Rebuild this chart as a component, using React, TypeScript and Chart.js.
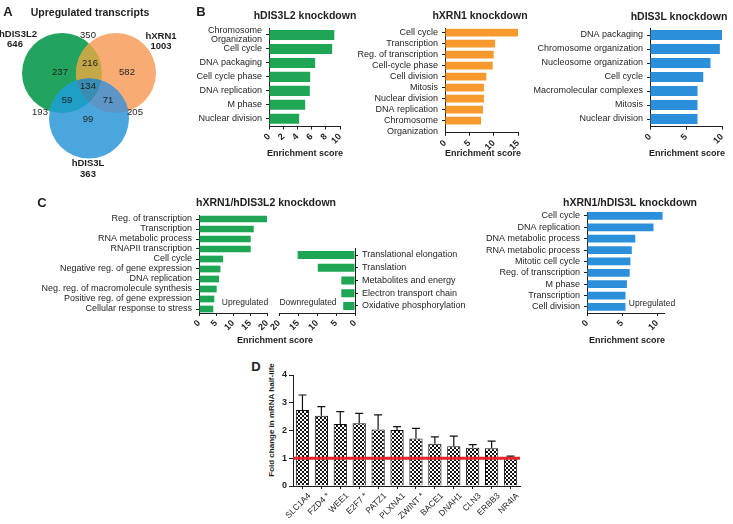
import React, { useEffect, useRef } from 'react';
import { Chart, registerables } from 'chart.js';

Chart.register(...registerables);

const FONT = '"Liberation Sans", Arial, Helvetica, sans-serif';
const INK = '#1e1e1e';

// ---------------- data ----------------
// Panel A – Venn
const vennSetNames = ['hDIS3L2', 'hXRN1', 'hDIS3L'];
const vennSetTotals = [646, 1003, 363];
// only-hDIS3L2, hDIS3L2∩hXRN1, only-hXRN1, all three, hDIS3L2∩hDIS3L, hXRN1∩hDIS3L, only-hDIS3L, outer labels
const vennRegionCounts = [237, 216, 582, 134, 59, 71, 99, 350, 193, 205];

// Panel B
const b1Cats = [['Chromosome', 'Organization'], 'Cell cycle', 'DNA packaging', 'Cell cycle phase', 'DNA replication', 'M phase', 'Nuclear division'];
const b1Vals = [9.2, 8.9, 6.5, 5.8, 5.75, 5.1, 4.25];
const b1Ticks = [0, 10, 2];

const b2Cats = ['Cell cycle', 'Transcription', 'Reg. of transcription', 'Cell-cycle phase', 'Cell division', 'Mitosis', 'Nuclear division', 'DNA replication', ['', 'Chromosome', 'Organization']];
const b2Vals = [15.0, 10.3, 10.0, 9.8, 8.5, 8.0, 8.0, 7.8, 7.4];
const b2Ticks = [0, 15, 5];

const b3Cats = ['DNA packaging', 'Chromosome organization', 'Nucleosome organization', 'Cell cycle', 'Macromolecular complexes', 'Mitosis', 'Nuclear division'];
const b3Vals = [10.1, 9.7, 8.4, 7.4, 6.6, 6.6, 6.6];
const b3Ticks = [0, 10, 5];

// Panel C
const c1UpCats = ['Reg. of transcription', 'Transcription', 'RNA metabolic process', 'RNAPII transcription', 'Cell cycle', 'Negative reg. of gene expression', 'DNA replication', 'Neg. reg. of macromolecule synthesis', 'Positive reg. of gene expression', 'Cellular response to stress'];
const c1UpVals = [20.0, 16.1, 15.2, 15.2, 7.1, 6.3, 5.9, 5.2, 4.5, 4.2];
const c1DownCats = ['Translational elongation', 'Translation', 'Metabolites and energy', 'Electron transport chain', 'Oxidative phosphorylation'];
const c1DownVals = [15.1, 9.8, 3.6, 3.6, 3.1];
const c1Ticks = [0, 20, 5];

const c2Cats = ['Cell cycle', 'DNA replication', 'DNA metabolic process', 'RNA metabolic process', 'Mitotic cell cycle', 'Reg. of transcription', 'M phase', 'Transcription', 'Cell division'];
const c2Vals = [10.8, 9.5, 6.9, 6.4, 6.2, 6.1, 5.7, 5.5, 5.5];
const c2Ticks = [0, 11, 5];

// Panel D
const dGenes = ['SLC1A4', 'FZD4 *', 'WEE1', 'E2F7 *', 'PATZ1', 'PLXNA1', 'ZWINT *', 'BACE1', 'DNAH1', 'CLN3', 'ERBB3', 'NR4IA'];
const dMeans = [2.74, 2.53, 2.23, 2.26, 2.04, 2.02, 1.71, 1.52, 1.43, 1.38, 1.36, 1.0];
const dErrTop = [3.28, 2.86, 2.68, 2.62, 2.56, 2.14, 2.08, 1.77, 1.8, 1.49, 1.62, 1.08];
const dBaseline = 1;
const dTicks = [0, 4, 1];

// ---------------- layout / style ----------------
const GREEN = '#1fa655';
const ORANGE = '#f7992c';
const BLUE = '#2b90d9';

const VENN_BOX = [0, 0, 185, 185];
const VENN_CIRCLES = [
  { cx: 62, cy: 73, r: 40, color: '#22a35e' },
  { cx: 116, cy: 73, r: 40, color: '#f8ab72' },
  { cx: 89, cy: 118.5, r: 40, color: '#4ca6de' },
];
const VENN_OVERLAP = { ab: '#c4a847', ac: '#1d9fc6', bc: '#5d96c6', abc: '#3a8db2' };
const VENN_REGION_POS = [[60, 72], [90, 63], [127, 72], [88, 86], [67, 100], [108, 100], [88, 119], [88, 35], [40, 112], [135, 112]];
const VENN_SET_POS = [[18, 34, 15, 44], [161, 36, 161, 46], [88, 163, 88, 174]];

type Box = [number, number, number, number];

const TEXTS: { s: string; x: number; y: number; size: number; bold?: boolean; rot?: number }[] = [
  { s: 'A', x: 8, y: 11, size: 13, bold: true },
  { s: 'Upregulated transcripts', x: 90, y: 12, size: 10.5, bold: true },
  { s: 'B', x: 201, y: 11, size: 13, bold: true },
  { s: 'hDIS3L2 knockdown', x: 305, y: 15, size: 10.5, bold: true },
  { s: 'hXRN1 knockdown', x: 480, y: 15, size: 10.5, bold: true },
  { s: 'hDIS3L knockdown', x: 679, y: 16, size: 10.5, bold: true },
  { s: 'Enrichment score', x: 305, y: 153, size: 9, bold: true },
  { s: 'Enrichment score', x: 483, y: 153, size: 9, bold: true },
  { s: 'Enrichment score', x: 687, y: 153, size: 9, bold: true },
  { s: 'C', x: 42, y: 202, size: 13, bold: true },
  { s: 'hXRN1/hDIS3L2 knockdown', x: 266, y: 202, size: 10.5, bold: true },
  { s: 'hXRN1/hDIS3L knockdown', x: 630, y: 202, size: 10.5, bold: true },
  { s: 'Upregulated', x: 245, y: 302, size: 8.5 },
  { s: 'Downregulated', x: 308, y: 302, size: 8.5 },
  { s: 'Upregulated', x: 652, y: 303, size: 8.5 },
  { s: 'Enrichment score', x: 275, y: 340, size: 9, bold: true },
  { s: 'Enrichment score', x: 627, y: 340, size: 9, bold: true },
  { s: 'D', x: 256, y: 366, size: 13, bold: true },
  { s: 'Fold change in mRNA half-life', x: 272, y: 420, size: 8, bold: true, rot: -90 },
];

type HBarCfg = {
  canvas: Box;
  area: Box;
  cats: (string | string[])[];
  vals: number[];
  ticks: number[];
  color: string;
  idxMin: number;
  idxMax: number;
  barPct: number;
  side: 'left' | 'right';
  reverseX?: boolean;
  lineHeight?: number;
};

const HBARS: HBarCfg[] = [
  { canvas: [190, 20, 350, 150], area: [269, 28, 340, 126.5], cats: b1Cats, vals: b1Vals, ticks: b1Ticks, color: GREEN, idxMin: -0.5, idxMax: 6.55, barPct: 0.72, side: 'left', lineHeight: 0.95 },
  { canvas: [350, 20, 530, 156], area: [445, 28.3, 518, 132.8], cats: b2Cats, vals: b2Vals, ticks: b2Ticks, color: ORANGE, idxMin: -0.4, idxMax: 9.1, barPct: 0.7, side: 'left' },
  { canvas: [525, 20, 733, 150], area: [650, 28, 722, 126.7], cats: b3Cats, vals: b3Vals, ticks: b3Ticks, color: BLUE, idxMin: -0.5, idxMax: 6.55, barPct: 0.72, side: 'left' },
  { canvas: [0, 205, 275, 336], area: [199, 215, 267, 313], cats: c1UpCats, vals: c1UpVals, ticks: c1Ticks, color: GREEN, idxMin: -0.4, idxMax: 9.4, barPct: 0.67, side: 'left' },
  { canvas: [262, 240, 480, 336], area: [279, 248, 355, 313], cats: c1DownCats, vals: c1DownVals, ticks: c1Ticks, color: GREEN, idxMin: -0.55, idxMax: 4.55, barPct: 0.63, side: 'right', reverseX: true },
  { canvas: [480, 205, 733, 336], area: [587, 212, 664, 313], cats: c2Cats, vals: c2Vals, ticks: c2Ticks, color: BLUE, idxMin: -0.35, idxMax: 8.53, barPct: 0.68, side: 'left' },
];

const D_CANVAS: Box = [276, 365, 545, 524];
const D_AREA: Box = [293, 375, 520, 486];

// ---------------- chart builders ----------------
function axisBase() {
  return {
    grid: { offset: false, drawOnChartArea: false, drawTicks: true, tickLength: 3, tickWidth: 1, tickColor: INK, color: INK },
    border: { display: true, color: INK, width: 1 },
  };
}

function makeHBar(el: HTMLCanvasElement, c: HBarCfg) {
  const [cl, ct, cr, cb] = c.canvas;
  const [al, at, ar, ab] = c.area;
  const left = c.side === 'left';
  const yW = left ? al - cl : cr - ar;
  const xH = cb - ab;
  return new Chart(el, {
    type: 'bar',
    data: {
      datasets: [{
        data: c.vals.map((v, i) => ({ x: v, y: i })),
        backgroundColor: c.color,
        borderWidth: 0,
        barPercentage: c.barPct,
        categoryPercentage: 1,
      }],
    },
    options: {
      indexAxis: 'y',
      animation: false,
      responsive: false,
      events: [],
      layout: { padding: { left: left ? 0 : al - cl, right: left ? cr - ar : 0, top: at - ct, bottom: 0 } },
      plugins: { legend: { display: false }, tooltip: { enabled: false } },
      scales: {
        x: {
          type: 'linear', position: 'bottom', min: c.ticks[0], max: c.ticks[1], reverse: !!c.reverseX, offset: false,
          ticks: { stepSize: c.ticks[2], autoSkip: false, includeBounds: false, minRotation: 45, maxRotation: 45, padding: 2, color: INK, font: { family: FONT, size: 9, weight: 'bold' } },
          ...axisBase(),
          afterFit: (s: any) => { s.height = xH; s.paddingLeft = 0; s.paddingRight = 0; },
        },
        y: {
          type: 'linear', position: c.side, min: c.idxMin, max: c.idxMax, reverse: true, offset: false, beginAtZero: false,
          afterBuildTicks: (s: any) => { s.ticks = c.cats.map((_, i) => ({ value: i })); },
          ticks: {
            autoSkip: false, padding: 4, color: INK,
            font: { family: FONT, size: 9, lineHeight: c.lineHeight ?? 1.2 },
            callback: (v: any) => c.cats[Math.round(Number(v))] ?? '',
          },
          ...axisBase(),
          afterFit: (s: any) => { s.width = yW; s.paddingTop = 0; s.paddingBottom = 0; },
        },
      },
    } as any,
  });
}

const vennPlugin = {
  id: 'venn',
  afterDatasetsDraw(chart: any) {
    const { ctx } = chart;
    const xs = chart.scales.x;
    const ys = chart.scales.y;
    const paths = VENN_CIRCLES.map((c) => {
      const p = new Path2D();
      const r = Math.abs(xs.getPixelForValue(c.cx + c.r) - xs.getPixelForValue(c.cx));
      p.arc(xs.getPixelForValue(c.cx), ys.getPixelForValue(c.cy), r, 0, Math.PI * 2);
      return p;
    });
    ctx.save();
    VENN_CIRCLES.forEach((c, i) => { ctx.fillStyle = c.color; ctx.fill(paths[i]); });
    const inter = (clips: number[], fillIdx: number, color: string) => {
      ctx.save();
      clips.forEach((k) => ctx.clip(paths[k]));
      ctx.fillStyle = color;
      ctx.fill(paths[fillIdx]);
      ctx.restore();
    };
    inter([0], 1, VENN_OVERLAP.ab);
    inter([0], 2, VENN_OVERLAP.ac);
    inter([1], 2, VENN_OVERLAP.bc);
    inter([0, 1], 2, VENN_OVERLAP.abc);

    ctx.fillStyle = INK;
    ctx.textAlign = 'center';
    ctx.textBaseline = 'middle';
    ctx.font = `9.5px ${FONT}`;
    vennRegionCounts.forEach((n, i) => {
      const [x, y] = VENN_REGION_POS[i];
      ctx.fillText(String(n), xs.getPixelForValue(x), ys.getPixelForValue(y));
    });
    ctx.font = `bold 9.5px ${FONT}`;
    vennSetNames.forEach((name, i) => {
      const [x1, y1, x2, y2] = VENN_SET_POS[i];
      ctx.fillText(name, xs.getPixelForValue(x1), ys.getPixelForValue(y1));
      ctx.fillText(String(vennSetTotals[i]), xs.getPixelForValue(x2), ys.getPixelForValue(y2));
    });
    ctx.restore();
  },
};

function makeVenn(el: HTMLCanvasElement) {
  const [l, t, r, b] = VENN_BOX;
  return new Chart(el, {
    type: 'scatter',
    data: { datasets: [{ data: [] }] },
    options: {
      animation: false, responsive: false, events: [],
      layout: { padding: 0 },
      plugins: { legend: { display: false }, tooltip: { enabled: false } },
      scales: {
        x: { type: 'linear', min: l, max: r, display: false },
        y: { type: 'linear', min: t, max: b, reverse: true, display: false },
      },
    } as any,
    plugins: [vennPlugin],
  });
}

const dPlugin = {
  id: 'dErr',
  afterDatasetsDraw(chart: any) {
    const { ctx } = chart;
    const xs = chart.scales.x;
    const ys = chart.scales.y;
    ctx.save();
    ctx.strokeStyle = '#111';
    ctx.lineWidth = 1.2;
    dMeans.forEach((m, i) => {
      const px = xs.getPixelForValue(i);
      const top = ys.getPixelForValue(dErrTop[i]);
      const base = ys.getPixelForValue(m);
      ctx.beginPath();
      ctx.moveTo(px, base);
      ctx.lineTo(px, top);
      ctx.moveTo(px - 4, top);
      ctx.lineTo(px + 4, top);
      ctx.stroke();
    });
    const y1 = ys.getPixelForValue(dBaseline);
    ctx.strokeStyle = '#e3262b';
    ctx.lineWidth = 3;
    ctx.beginPath();
    ctx.moveTo(chart.chartArea.left, y1);
    ctx.lineTo(chart.chartArea.right, y1);
    ctx.stroke();
    ctx.restore();
  },
};

function makeD(el: HTMLCanvasElement) {
  const [cl, ct, cr, cb] = D_CANVAS;
  const [al, at, ar, ab] = D_AREA;
  const tile = document.createElement('canvas');
  tile.width = 4; tile.height = 4;
  const g = tile.getContext('2d')!;
  g.fillStyle = '#fff'; g.fillRect(0, 0, 4, 4);
  g.fillStyle = '#111'; g.fillRect(0, 0, 2, 2); g.fillRect(2, 2, 2, 2);
  const pattern = el.getContext('2d')!.createPattern(tile, 'repeat');
  return new Chart(el, {
    type: 'bar',
    data: {
      labels: dGenes,
      datasets: [{ data: dMeans, backgroundColor: pattern as any, borderColor: '#111', borderWidth: 1, barPercentage: 0.7, categoryPercentage: 1 }],
    },
    options: {
      animation: false, responsive: false, events: [],
      layout: { padding: { left: 0, right: cr - ar, top: at - ct, bottom: 0 } },
      plugins: { legend: { display: false }, tooltip: { enabled: false } },
      scales: {
        x: {
          type: 'category',
          ticks: { autoSkip: false, minRotation: 45, maxRotation: 45, padding: 2, labelOffset: 7, color: INK, font: { family: FONT, size: 8.5 } },
          grid: { offset: false, drawOnChartArea: false, drawTicks: true, tickLength: 3, color: INK },
          border: { display: true, color: INK, width: 1 },
          afterFit: (s: any) => { s.height = cb - ab; s.paddingLeft = 0; s.paddingRight = 0; },
        },
        y: {
          min: dTicks[0], max: dTicks[1],
          ticks: { stepSize: dTicks[2], padding: 2, color: INK, font: { family: FONT, size: 9, weight: 'bold' } },
          grid: { drawOnChartArea: false, drawTicks: true, tickLength: 4, color: INK },
          border: { display: true, color: INK, width: 1 },
          afterFit: (s: any) => { s.width = al - cl; s.paddingTop = 0; s.paddingBottom = 0; },
        },
      },
    } as any,
    plugins: [dPlugin],
  });
}

function ChartCanvas({ box, build }: { box: Box; build: (el: HTMLCanvasElement) => Chart }) {
  const ref = useRef<HTMLCanvasElement>(null);
  useEffect(() => {
    const ch = build(ref.current!);
    return () => ch.destroy();
  }, []);
  const w = box[2] - box[0];
  const h = box[3] - box[1];
  return (
    <canvas
      ref={ref}
      width={w}
      height={h}
      style={{ position: 'absolute', left: box[0], top: box[1], width: w, height: h }}
    />
  );
}

export default function App() {
  return (
    <div style={{ position: 'absolute', left: 0, top: 0, width: 733, height: 524, overflow: 'hidden', background: '#fff', fontFamily: FONT }}>
      <ChartCanvas box={VENN_BOX as Box} build={makeVenn} />
      {HBARS.map((c, i) => (
        <ChartCanvas key={i} box={c.canvas} build={(el) => makeHBar(el, c)} />
      ))}
      <ChartCanvas box={D_CANVAS} build={makeD} />
      {TEXTS.map((t, i) => (
        <div
          key={i}
          style={{
            position: 'absolute', left: t.x, top: t.y,
            transform: `translate(-50%, -50%) rotate(${t.rot ?? 0}deg)`,
            fontSize: t.size, fontWeight: t.bold ? 'bold' : 'normal',
            fontFamily: FONT, lineHeight: 1, whiteSpace: 'nowrap', color: INK,
          }}
        >
          {t.s}
        </div>
      ))}
    </div>
  );
}
